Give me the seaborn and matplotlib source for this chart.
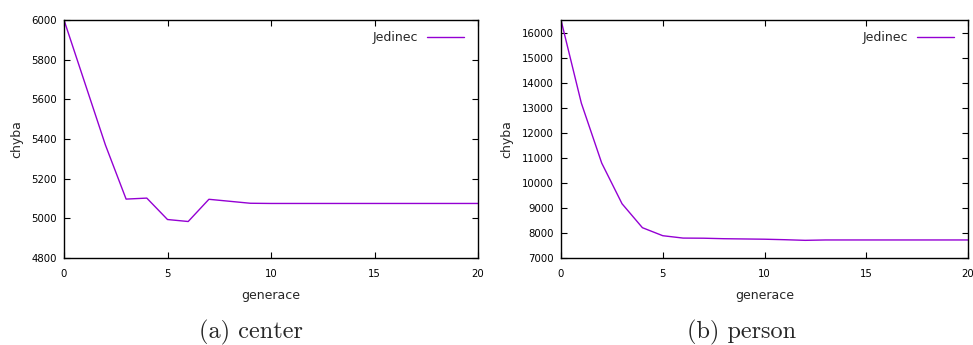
import matplotlib
matplotlib.use("Agg")
import matplotlib.pyplot as plt
import seaborn as sns
import pandas as pd

generations = list(range(0, 21))
center_error = [6000, 5685, 5370, 5097, 5102, 4994, 4984, 5096, 5086, 5076,
                5075, 5075, 5075, 5075, 5075, 5075, 5075, 5075, 5075, 5075, 5075]
person_error = [16500, 13180, 10790, 9165, 8210, 7890, 7795, 7790, 7770, 7760,
                7750, 7730, 7705, 7720, 7720, 7720, 7720, 7720, 7720, 7720, 7720]
center_yticks = [4800, 5000, 5200, 5400, 5600, 5800, 6000]
person_yticks = [7000, 8000, 9000, 10000, 11000, 12000, 13000, 14000, 15000, 16000]
xticks = [0, 5, 10, 15, 20]
series_name = "Jedinec"
captions = ["(a) center", "(b) person"]

sns.set_style("ticks")
plt.rcParams['font.family'] = ['DejaVu Sans']

fig = plt.figure(figsize=(9.73, 3.45), dpi=100)
ax1 = fig.add_axes([64/973, 87/345, 414/973, 238/345])
ax2 = fig.add_axes([561/973, 87/345, 407/973, 238/345])

color = "#9400D3"
panels = [
    (ax1, center_error, (4800, 6000), center_yticks, 1 - 9/414),
    (ax2, person_error, (7000, 16500), person_yticks, 1 - 9/407),
]
for ax, vals, ylim, yticks, anchor_x in panels:
    df = pd.DataFrame({"generace": generations, "chyba": vals})
    sns.lineplot(data=df, x="generace", y="chyba", ax=ax, color=color,
                 linewidth=1.0, label=series_name)
    ax.set_xlim(0, 20)
    ax.set_ylim(*ylim)
    ax.set_xticks(xticks)
    ax.set_yticks(yticks)
    ax.tick_params(axis="both", direction="in", top=True, right=True, labelsize=7.3,
                   length=4, width=0.8, colors="black")
    ax.tick_params(axis="x", pad=8)
    ax.tick_params(axis="y", pad=5)
    for s in ax.spines.values():
        s.set_visible(True)
        s.set_linewidth(1.0)
        s.set_color("black")
    ax.set_xlabel("generace", fontsize=9, labelpad=7)
    ax.set_ylabel("chyba", fontsize=9, labelpad=6)
    ax.legend(loc="upper right", bbox_to_anchor=(anchor_x, 1 - 6/238),
              frameon=False, markerfirst=False,
              fontsize=9, handlelength=3.0, borderaxespad=0.0,
              handletextpad=0.7)
    ax.grid(False)

fig.text(251/973, 1 - 332/345, captions[0], family="cmr10", fontsize=17.5,
         ha="center", va="center")
fig.text(742/973, 1 - 332/345, captions[1], family="cmr10", fontsize=17.5,
         ha="center", va="center")

fig.savefig("out.png", dpi=100)
